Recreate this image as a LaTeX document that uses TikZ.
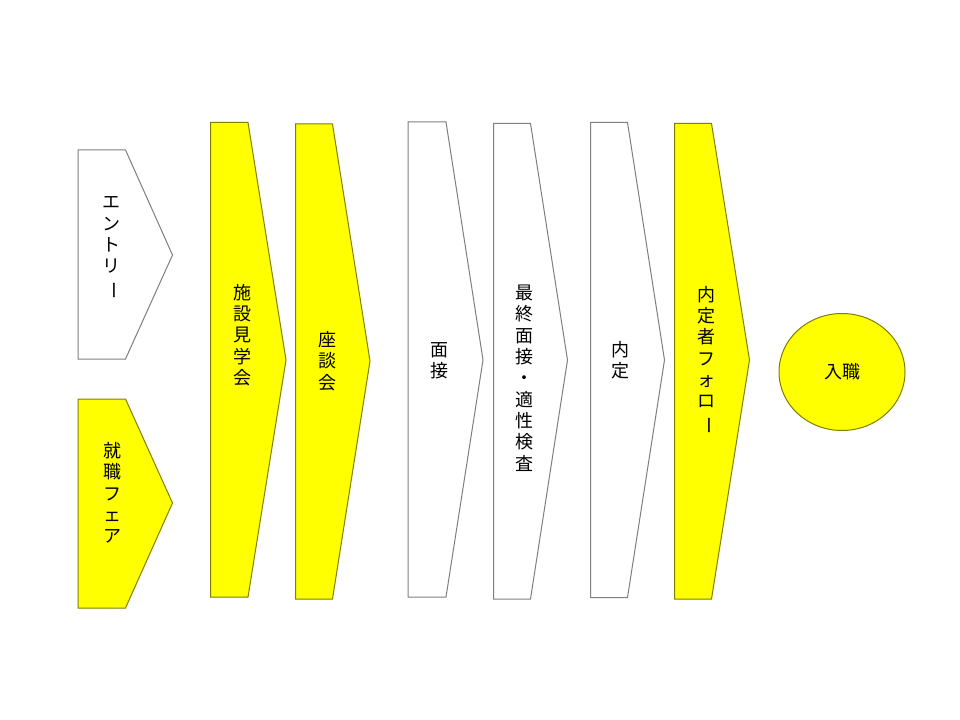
\documentclass[tikz,border=0pt]{standalone}
\usepackage{fontspec}
\usetikzlibrary{shapes.geometric}
\newfontfamily\cjk{Noto Sans CJK JP}
\definecolor{yel}{HTML}{FFFF00}
\definecolor{yelline}{HTML}{7F7F00}
\definecolor{grayline}{HTML}{7F7F7F}
\newcommand{\chouon}{\rotatebox[origin=c]{-90}{ー}}
\tikzset{
  yshape/.style={fill=yel,draw=yelline,line width=0.75pt,line join=miter},
  wshape/.style={fill=white,draw=grayline,line width=0.75pt,line join=miter},
  vtext/.style={font=\cjk\fontsize{13.5}{16}\selectfont,align=center,inner sep=0pt,text=black},
}
\begin{document}
\begin{tikzpicture}[x=0.75pt,y=-0.75pt]
\useasboundingbox (0,0) rectangle (960,720);
\fill[white] (0,0) rectangle (960,720);
% shapes
\draw[wshape] (78,150) -- (125.5,150) -- (172.5,255) -- (125.5,359) -- (78,359) -- cycle;
\draw[yshape] (78,399) -- (125.5,399) -- (172.5,503) -- (125.5,608) -- (78,608) -- cycle;
\draw[yshape] (210.5,122.5) -- (248,122.5) -- (286,360) -- (248,597) -- (210.5,597) -- cycle;
\draw[yshape] (295.5,124) -- (332.5,124) -- (370,361) -- (332.5,599) -- (295.5,599) -- cycle;
\draw[wshape] (408,122) -- (446,122) -- (483,360) -- (446,597) -- (408,597) -- cycle;
\draw[wshape] (493.5,123.5) -- (530.5,123.5) -- (567.5,360) -- (530.5,599) -- (493.5,599) -- cycle;
\draw[wshape] (590.5,122.5) -- (627.5,122.5) -- (664.5,360) -- (627.5,597.5) -- (590.5,597.5) -- cycle;
\draw[yshape] (674.5,123.5) -- (711.5,123.5) -- (749.5,360) -- (711.5,599) -- (674.5,599) -- cycle;
% circle
\node[yshape,ellipse,minimum width=126*0.75pt,minimum height=117*0.75pt,inner sep=0pt] (join) at (842,372) {};
% texts
\node[vtext] (entry) at (111,248) {エ\\ン\\ト\\リ\\\chouon};
\node[vtext] (fair) at (112,493) {就\\職\\フ\\ェ\\ア};
\node[vtext] (visit) at (242,335) {施\\設\\見\\学\\会};
\node[vtext] (talk) at (327,361) {座\\談\\会};
\node[vtext] (interview) at (439,361) {面\\接};
\node[vtext] (final) at (524,378) {最\\終\\面\\接\\・\\適\\性\\検\\査};
\node[vtext] (offer) at (620.5,360) {内\\定};
\node[vtext] (follow) at (706.5,360) {内\\定\\者\\フ\\ォ\\ロ\\\chouon};
\node[vtext] (jointext) at (842,372) {入職};
\end{tikzpicture}
\end{document}
